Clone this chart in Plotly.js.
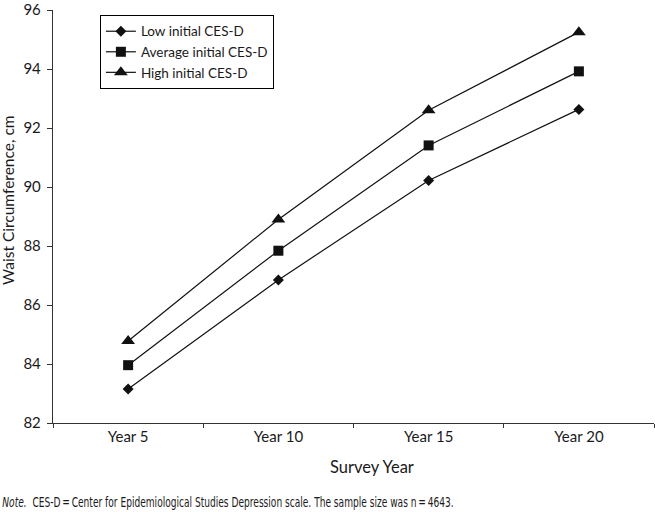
<!DOCTYPE html>
<html>
<head>
<meta charset="utf-8">
<script src="https://cdn.plot.ly/plotly-3.0.1.min.js"></script>
<style>html,body{margin:0;padding:0;background:#fff;}#chart{width:655px;height:512px;}</style>
</head>
<body>
<div id="chart"></div>
<script>
const years = ["Year 5", "Year 10", "Year 15", "Year 20"];
const lowCESD = [83.15, 86.85, 90.22, 92.63];
const avgCESD = [83.96, 87.84, 91.41, 93.92];
const highCESD = [84.78, 88.9, 92.6, 95.25];
const seriesNames = ["Low initial CES-D", "Average initial CES-D", "High initial CES-D"];
const noteText = "<i>Note.</i>  CES-D\u2009=\u2009Center for Epidemiological Studies Depression scale. The sample size was n\u2009=\u20094643.";

const FONT = "Lato, 'Open Sans', sans-serif";
const lineStyle = {color: "#111", width: 1.2};

const traces = [
  {x: years, y: lowCESD, name: seriesNames[0], type: "scatter", mode: "lines+markers",
   line: lineStyle, marker: {symbol: "diamond", size: 8.5, color: "#111"}},
  {x: years, y: avgCESD, name: seriesNames[1], type: "scatter", mode: "lines+markers",
   line: lineStyle, marker: {symbol: "square", size: 10, color: "#111"}},
  {x: years, y: highCESD, name: seriesNames[2], type: "scatter", mode: "lines+markers",
   line: lineStyle, marker: {symbol: "triangle-up", size: 12, color: "#111"}}
];

const layout = {
  width: 655, height: 512,
  margin: {l: 53, r: 1, t: 10, b: 89},
  paper_bgcolor: "#fff", plot_bgcolor: "#fff",
  font: {family: FONT, color: "#1a1a1a", size: 15},
  showlegend: true,
  legend: {
    x: 0.078, y: 0.988, xanchor: "left", yanchor: "top",
    bordercolor: "#000", borderwidth: 1, bgcolor: "#fff",
    font: {family: FONT, size: 13.5, color: "#1a1a1a"},
    tracegroupgap: 0
  },
  xaxis: {
    type: "category", range: [-0.5, 3.5],
    showline: true, linecolor: "#333", linewidth: 1.2,
    ticks: "outside", tickson: "boundaries", ticklen: 4, tickcolor: "#333",
    showgrid: false, zeroline: false,
    tickfont: {family: FONT, size: 15, color: "#1a1a1a"},
    fixedrange: true
  },
  yaxis: {
    range: [82, 96], dtick: 2, tick0: 82,
    showline: true, linecolor: "#333", linewidth: 1.2,
    ticks: "outside", ticklen: 5, tickcolor: "#333",
    showgrid: false, zeroline: false,
    ticklabeloverflow: "allow",
    tickfont: {family: FONT, size: 15, color: "#1a1a1a"},
    ticklabelstandoff: 3
  },
  annotations: [
    {text: "Waist Circumference, cm", xref: "paper", yref: "paper",
     x: -0.075, y: 0.54, xanchor: "center", yanchor: "middle", textangle: -90,
     showarrow: false, font: {family: FONT, size: 15.5, color: "#1a1a1a"}},
    {text: "Survey Year", xref: "paper", yref: "paper",
     x: 0.531, y: -0.107, xanchor: "center", yanchor: "middle",
     showarrow: false, font: {family: FONT, size: 16.5, color: "#1a1a1a"}},
    {text: noteText,
     xref: "paper", yref: "paper", x: -0.0882, y: -0.192, xanchor: "left", yanchor: "middle",
     showarrow: false, font: {family: "'DejaVu Sans', sans-serif", size: 14, color: "#1a1a1a"}}
  ]
};

Plotly.newPlot("chart", traces, layout, {displayModeBar: false, staticPlot: true}).then(function (gd) {
  // Condense the note text to mimic the narrow typeface of the original
  const texts = gd.querySelectorAll("text.annotation-text");
  const note = texts[texts.length - 1];
  if (note) {
    const bb = note.getBBox();
    const target = 452; // approximate width of the note line in the original
    const s = Math.min(1, target / bb.width);
    note.setAttribute("transform", "translate(" + (bb.x * (1 - s)) + ",0) scale(" + s + ",1)");
  }
});
</script>
</body>
</html>
